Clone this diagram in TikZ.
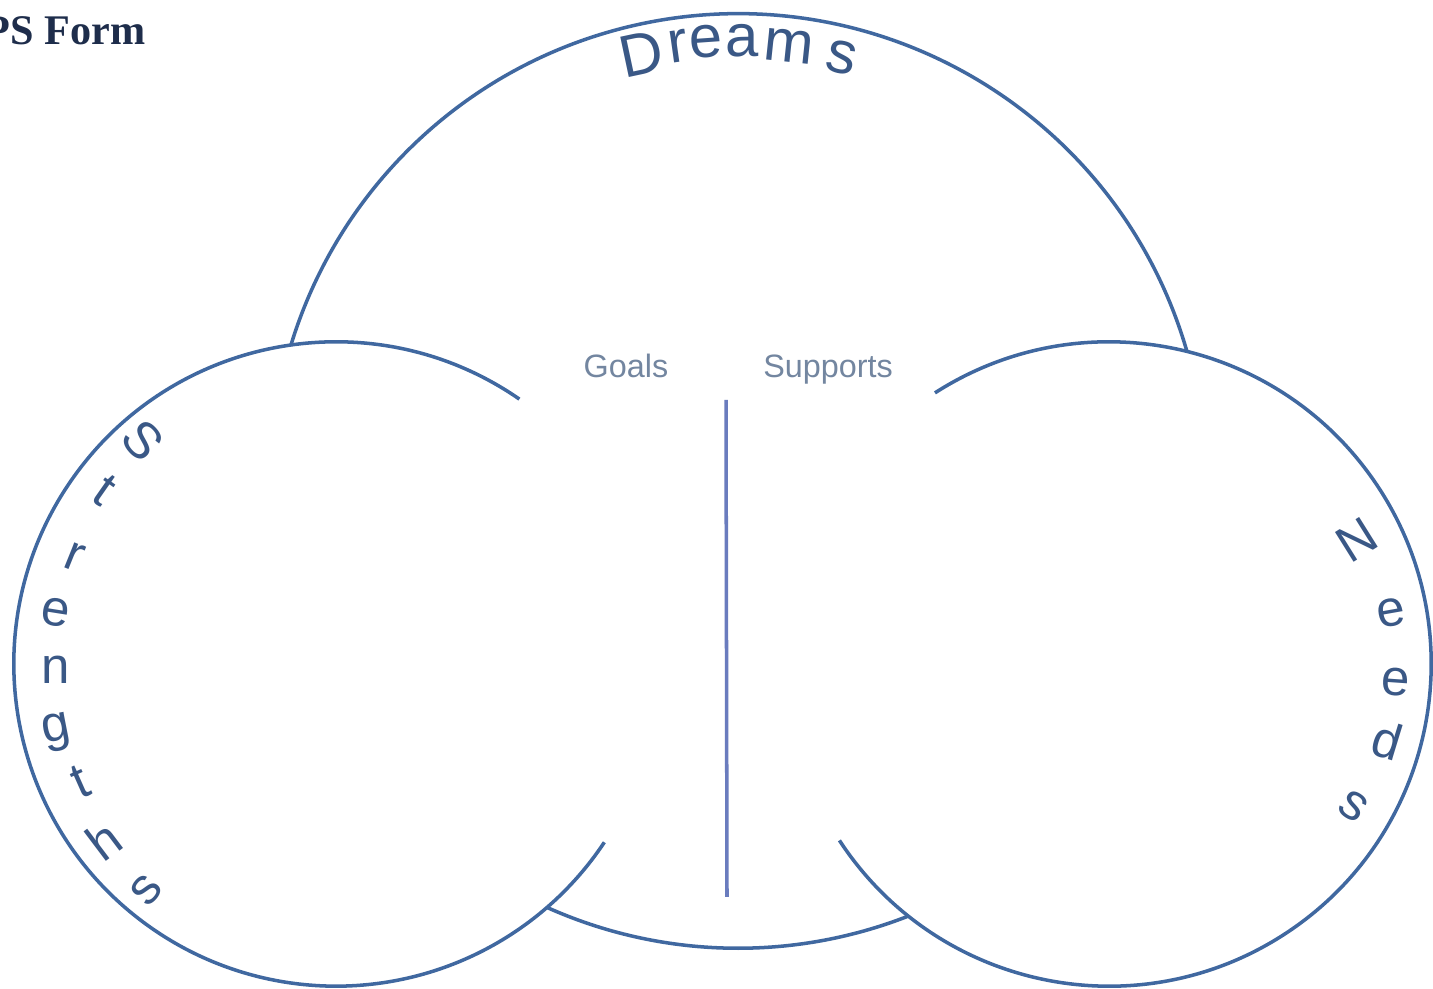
\documentclass[tikz,border=0pt]{standalone}
\usepackage{fontspec}
\setmainfont{Liberation Sans}
\newfontfamily\headfont{Liberation Serif}
\definecolor{ringblue}{RGB}{64,104,160}
\definecolor{txtblue}{RGB}{58,88,134}
\definecolor{lblgray}{RGB}{115,134,160}
\definecolor{midline}{RGB}{106,124,190}
\definecolor{navy}{RGB}{30,45,75}
\tikzset{
  ring/.style={draw=ringblue, line width=1pt},
  bigletter/.style={text=txtblue, inner sep=0pt, font=\fontsize{17}{20}\selectfont},
  letter/.style={text=txtblue, inner sep=0pt, font=\fontsize{14.5}{17}\selectfont},
  lbl/.style={text=lblgray, inner sep=0pt, anchor=base, font=\fontsize{9.2}{11}\selectfont},
}
\begin{document}
\begin{tikzpicture}[x=0.01cm,y=0.01cm]
\useasboundingbox (0,0) rectangle (1433,-989);
\fill[white] (0,0) rectangle (1433,-989);
\coordinate (B) at (738,-481);
\coordinate (L) at (336,-664);
\coordinate (R) at (1109,-664);
% big circle (Dreams)
\draw[ring] ([shift={(16.1:4.67cm)}]B) arc[start angle=16.1, end angle=163.1, radius=4.67cm];
\draw[ring] ([shift={(245.8:4.67cm)}]B) arc[start angle=245.8, end angle=291.4, radius=4.67cm];
% left circle (Strengths)
\draw[ring] ([shift={(55.3:3.22cm)}]L) arc[start angle=55.3, end angle=326.4, radius=3.22cm];
% right circle (Needs)
\draw[ring] ([shift={(-146.8:3.22cm)}]R) arc[start angle=-146.8, end angle=122.7, radius=3.22cm];
% middle divider
\coordinate (vtop) at (726,-400);
\coordinate (vbot) at (727,-897);
\draw[draw=midline, line width=1pt] (vtop) -- (vbot);
% labels
\node[lbl] (goals) at (626,-378) {Goals};
\node[lbl] (supports) at (828,-378) {Supports};
% title
\node[anchor=base west, inner sep=0pt, text=navy, font=\headfont\bfseries\fontsize{12}{14}\selectfont] (title) at (-16,-45) {PS Form};
% Dreams
\foreach \c/\x/\y/\r [count=\i] in {D/641/54/12, r/678/46/8, e/706/42/4, a/742/41/0, m/789/46/-6, s/842/58/-13}
  \node[bigletter, rotate=\r] (dr\i) at (\x,-\y) {\c};
% Strengths
\foreach \c/\x/\y/\r [count=\i] in {S/143/440/-48, t/105/490/-35, r/75/557/-22, e/56/612/-9, n/56/670/0, g/57/733/11, t/80/782/24, h/104/840/37, s/146/890/50}
  \node[letter, rotate=\r] (st\i) at (\x,-\y) {\c};
% Needs
\foreach \c/\x/\y/\r [count=\i] in {N/1357/540/32, e/1391/613/10, e/1396/682/-4, d/1387/740/-17, s/1353/806/-33}
  \node[letter, rotate=\r] (nd\i) at (\x,-\y) {\c};
\end{tikzpicture}
\end{document}
